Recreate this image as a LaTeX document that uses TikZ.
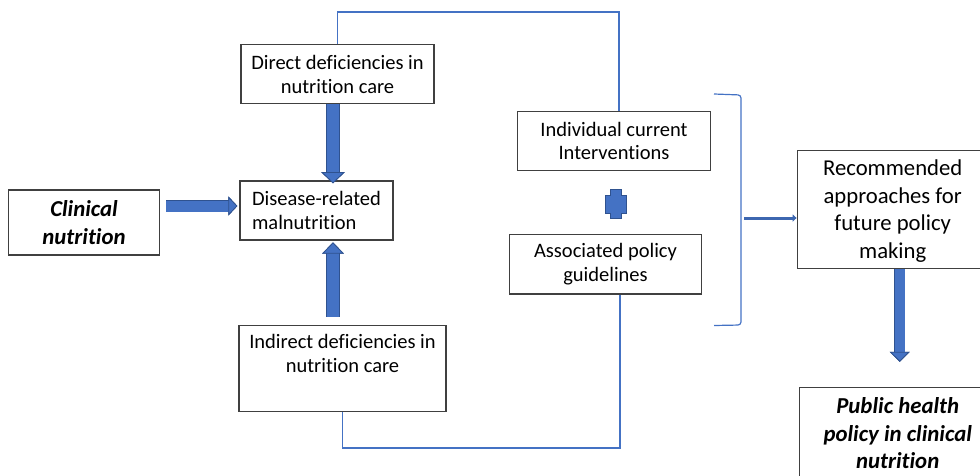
\documentclass[tikz,border=0pt]{standalone}
\usepackage{fontspec}
\setmainfont{Carlito}[Ligatures=NoCommon]
\usetikzlibrary{positioning,arrows.meta,calc}
\definecolor{arrowblue}{HTML}{4472C4}
\definecolor{arrowedge}{HTML}{2F528F}
\definecolor{boxgray}{HTML}{404040}
\newcommand{\boxfont}{\fontsize{20.5}{23.8}\selectfont}
\newcommand{\keyfont}{\fontsize{22.8}{27.5}\selectfont\bfseries\itshape}

\tikzset{
  textbox/.style={draw=boxgray, line width=1.2pt, fill=white, align=center, inner sep=0pt, font=\boxfont},
  bluelink/.style={draw=arrowblue, line width=1.2pt},
  fatarrow/.style args={#1/#2/#3}{draw=arrowblue, line width=#1,
    preaction={draw=arrowedge, line width=#1+1pt},
    -{Triangle[length=#2, width=#3, line width=0.8pt, fill=arrowblue, color=arrowedge]}},
}

\begin{document}
\begin{tikzpicture}[x=1pt, y=-1pt]
	\useasboundingbox (0,0) rectangle (980,476);
	\node[textbox, minimum width=151pt, minimum height=65pt, font=\keyfont] (clin) at (84,222.5) {Clinical\\nutrition};
	\node[textbox, align=left, minimum width=153pt, minimum height=59pt] (dis) at (316.5,210.5) {Disease-related\\malnutrition};
	\node[textbox, minimum width=193pt, minimum height=59pt, above=76pt of dis, xshift=21pt] (dir) {Direct deficiencies in\\nutrition care};
	\node[textbox, minimum width=207pt, minimum height=86pt, text depth=29pt, below=84pt of dis, xshift=26pt] (ind) {Indirect deficiencies in\\nutrition care};
	\node[textbox, minimum width=193pt, minimum height=58.5pt] (indiv) at (614,141) {Individual current\\Interventions};
	\node[textbox, minimum width=192pt, minimum height=59.5pt, below=63pt of indiv, xshift=-8.5pt] (assoc) {Associated policy\\guidelines};
	\node[textbox, minimum width=191pt, minimum height=118pt, text depth=-2pt, font=\fontsize{22.7}{27.5}\selectfont] (rec) at (892.7,209.2) {Recommended\\approaches for\\future policy\\making};
	\node[textbox, minimum width=196pt, minimum height=92pt, below=118pt of rec, xshift=5pt, font=\keyfont] (pub) {Public health\\policy in clinical\\nutrition};

	% links round the two groups
	\coordinate (topR) at (619,12);
	\coordinate (botR) at (620,448);
	\draw[bluelink] (dir.north) |- (topR) -- (topR |- indiv.north);
	\draw[bluelink] (ind.south) |- (botR) -- (botR |- assoc.south);

	% bracket
	\coordinate (brTop) at (714,94);
	\coordinate (brBot) at (714,325.5);
	\coordinate (brMid) at (744,218);
	\draw[bluelink, rounded corners=3pt] (brTop) -- (741,95) -- (741,325) -- (brBot);
	\draw[draw=arrowblue!90!black, line width=3pt, -{Triangle[length=4pt, width=7pt]}] (brMid) -- (brMid -| rec.west);

	% plus between the two boxes
	\coordinate (plus) at (616,204);
	\filldraw[fill=arrowblue, draw=arrowedge, line width=0.6pt, shift={(plus)}]
		(-5.5,-15) -- (5.5,-15) -- (5.5,-9) -- (10.5,-9) -- (10.5,9) -- (5.5,9) -- (5.5,14)
		-- (-5.5,14) -- (-5.5,9) -- (-10.5,9) -- (-10.5,-9) -- (-5.5,-9) -- cycle;

	% block arrows
	\draw[fatarrow=11pt/9pt/19pt] ([xshift=6pt, yshift=16.5pt]clin.east) -- ([xshift=-2pt, yshift=4.5pt]dis.west);
	\draw[fatarrow=12.3pt/11.3pt/23.6pt] ([xshift=-4.5pt]dir.south) -- ($(dir.south |- dis.north)+(-4.5,3)$);
	\draw[fatarrow=12.3pt/11.3pt/21.7pt] ($(ind.north)+(-9.5,-8)$) -- ($(ind.north |- dis.south)+(-9.5,1.7)$);
	\coordinate (recTip) at ($(rec.south)+(7,93)$);
	\draw[fatarrow=10pt/10pt/20pt] ([xshift=7pt]rec.south) -- (recTip);
\end{tikzpicture}
\end{document}
